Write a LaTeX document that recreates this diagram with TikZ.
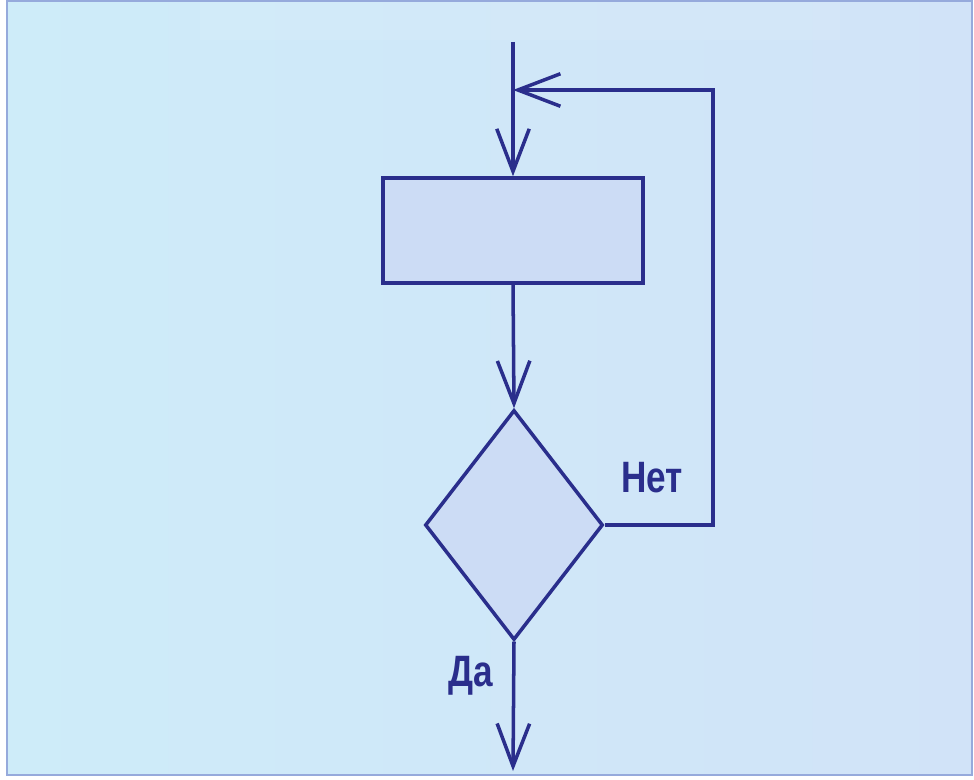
\documentclass[tikz,border=0pt]{standalone}
\usepackage{fontspec}
\newfontfamily\answerfont{Liberation Sans}[FakeStretch=0.8]
\usetikzlibrary{positioning, arrows.meta, shapes.geometric}

\definecolor{navy}{RGB}{42,46,140}
\definecolor{bgleft}{RGB}{206,236,249}
\definecolor{bgright}{RGB}{209,227,248}
\definecolor{boxfill}{RGB}{204,220,245}
\definecolor{framec}{RGB}{150,170,220}

\begin{document}
\begin{tikzpicture}[
        x=0.02cm, y=-0.02cm,
        flow/.style={draw=navy, line width=2pt, -{Straight Barb[length=0.85cm, width=0.65cm, line width=2pt]}},
        wire/.style={draw=navy, line width=2pt},
        block/.style={rectangle, draw=navy, line width=2pt, fill=boxfill, minimum width=5.2cm, minimum height=2.1cm, inner sep=0pt},
        check/.style={diamond, draw=navy, line width=2pt, fill=boxfill, minimum width=3.56cm, minimum height=4.6cm, inner sep=0pt},
        answer/.style={text=navy, font=\answerfont\bfseries\fontsize{25}{29}\selectfont, inner sep=0pt},
    ]

        \useasboundingbox (0,0) rectangle (974,780);

        % Background panel
        \shade[left color=bgleft, right color=bgright] (7,1) rectangle (972,775);
        \fill[white, opacity=0.08] (200,1) rectangle (840,40);
        \draw[framec, line width=1pt] (7,1) rectangle (972,775);

        % Draw the blocks
        \node[block] (body) at (513,230.5) {};
        \node[check] (cond) at (514,525) {};

        % Free ends and corners of the loop
        \coordinate (start) at (513,42);
        \coordinate (join) at (513,90);
        \coordinate (corner) at (713,525);
        \coordinate (finish) at (513,771);

        % Connect the blocks
        \draw[wire] (start) -- (join);
        \draw[flow] (join) -- (body.north);
        \draw[flow] (body.south) -- (cond.north);
        \draw[flow] (cond.east) -- (corner) |- (join);
        \draw[flow] (cond.south) -- (finish);

        % Branch labels
        \node[answer] (no) at (652,478) {Нет};
        \node[answer] (yes) at (471,676) {Да};
    \end{tikzpicture}
\end{document}
